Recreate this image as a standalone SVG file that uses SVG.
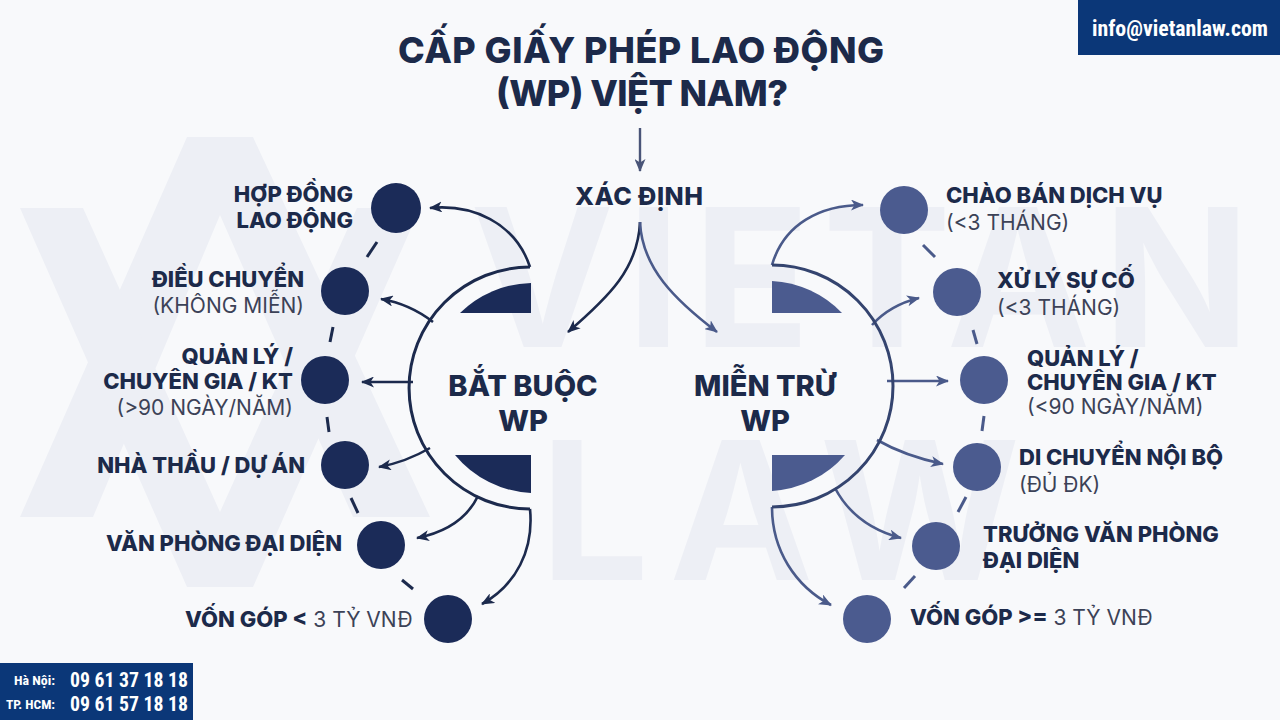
<svg xmlns="http://www.w3.org/2000/svg" width="1280" height="720" viewBox="0 0 1280 720">
<defs>
<style>
.t{font-family:Inter,"Open Sans","Noto Sans",sans-serif;}
.title{font-size:36px;font-weight:800;fill:#1c2a4a;text-anchor:middle;}
.hub{font-size:29px;font-weight:800;fill:#1c2a4a;text-anchor:middle;}
.xd{font-size:25px;font-weight:800;fill:#1c2a4a;text-anchor:middle;}
.b{font-size:22px;font-weight:800;fill:#1c2a4a;}
.r{font-size:21px;font-weight:400;fill:#3c4257;}
.wm{font-family:Inter,"Open Sans",sans-serif;font-size:193px;font-weight:700;fill:#edeff5;}
.cL{fill:#1b2b58;}
.cR{fill:#4b5b8f;}
.lineL{fill:none;stroke:#1c2a4d;stroke-width:2.6;}
.lineR{fill:none;stroke:#4a5a8a;stroke-width:2.6;}
.ringL{fill:none;stroke:#1c2a4d;stroke-width:3;}
.ringR{fill:none;stroke:#34446f;stroke-width:3;}
.dashL{stroke:#1c2a4d;stroke-width:3;stroke-linecap:butt;}
.dashR{stroke:#4a5a8a;stroke-width:3;stroke-linecap:butt;}
.badge{fill:#0b3778;}
.bt{font-family:"Liberation Sans Narrow","Roboto Condensed",Roboto,"Liberation Sans",sans-serif;font-weight:700;fill:#ffffff;}
</style>
<marker id="aL" viewBox="0 0 13 11" refX="12" refY="5.5" markerWidth="13" markerHeight="11" markerUnits="userSpaceOnUse" orient="auto">
<path d="M0,0 L13,5.5 L0,11 L3.5,5.5 Z" fill="#1c2a4d"/>
</marker>
<marker id="aR" viewBox="0 0 13 11" refX="12" refY="5.5" markerWidth="13" markerHeight="11" markerUnits="userSpaceOnUse" orient="auto">
<path d="M0,0 L13,5.5 L0,11 L3.5,5.5 Z" fill="#4a5a8a"/>
</marker>
<marker id="aT" viewBox="0 0 13 11" refX="12" refY="5.5" markerWidth="13" markerHeight="11" markerUnits="userSpaceOnUse" orient="auto">
<path d="M0,0 L13,5.5 L0,11 L3.5,5.5 Z" fill="#4a5578"/>
</marker>
</defs>

<rect x="0" y="0" width="1280" height="720" fill="#f8f9fb"/>

<g id="watermark">
<polygon points="187,137 253,137 430,517 353,517 220,215 93,517 20,517" fill="#edeff5"/>
<polygon points="20,208 83,208 220,512 357,208 420,208 253,587 187,587" fill="#edeff5"/>
<text class="wm" x="470" y="347" textLength="780">VIETAN</text>
<text class="wm" x="540" y="580" textLength="480">LAW</text>
</g>

<g id="title">
<text class="t title" x="641" y="63" textLength="486">CẤP GIẤY PHÉP LAO ĐỘNG</text>
<text class="t title" x="642" y="106" textLength="292">(WP) VIỆT NAM?</text>
</g>

<g id="connectors">
<path d="M640,128 L640,171" fill="none" stroke="#4a5578" stroke-width="2.4" marker-end="url(#aT)"/>
<path class="lineL" d="M640,222 C638,268 610,296 568,332" marker-end="url(#aL)"/>
<path class="lineR" d="M640,222 C642,268 675,300 717,332" marker-end="url(#aR)"/>

<path class="lineL" d="M530,267 C515,222 472,204 430,208" marker-end="url(#aL)"/>
<path class="lineL" d="M433,322 Q410,304 381,299" marker-end="url(#aL)"/>
<path class="lineL" d="M413,382 L362,382" marker-end="url(#aL)"/>
<path class="lineL" d="M430,448 Q406,462 379,467" marker-end="url(#aL)"/>
<path class="lineL" d="M478,496 Q462,529 417,538" marker-end="url(#aL)"/>
<path class="lineL" d="M530,509 C534,550 516,585 482,604" marker-end="url(#aL)"/>

<path class="lineR" d="M772,265 C784,224 820,205 863,205" marker-end="url(#aR)"/>
<path class="lineR" d="M872,325 Q890,305 919,298" marker-end="url(#aR)"/>
<path class="lineR" d="M887,381 L948,381" marker-end="url(#aR)"/>
<path class="lineR" d="M877,440 Q905,456 943,464" marker-end="url(#aR)"/>
<path class="lineR" d="M835,488 Q855,526 901,538" marker-end="url(#aR)"/>
<path class="lineR" d="M772,507 C772,550 795,586 831,605" marker-end="url(#aR)"/>

<line class="dashL" x1="377" y1="242" x2="367" y2="257"/>
<line class="dashL" x1="333" y1="327" x2="330" y2="342"/>
<line class="dashL" x1="327" y1="417" x2="329" y2="432"/>
<line class="dashL" x1="351" y1="498" x2="358" y2="513"/>
<line class="dashL" x1="402" y1="580" x2="413" y2="589"/>

<line class="dashR" x1="923" y1="245" x2="935" y2="257"/>
<line class="dashR" x1="973" y1="330" x2="977" y2="344"/>
<line class="dashR" x1="984" y1="416" x2="982" y2="431"/>
<line class="dashR" x1="966" y1="497" x2="958" y2="512"/>
<line class="dashR" x1="915" y1="576" x2="904" y2="588"/>
</g>

<g id="node-xac-dinh">
<text class="t xd" x="639" y="205" textLength="128">XÁC ĐỊNH</text>
</g>

<g id="node-bat-buoc">
<path class="ringL" d="M530,267 A121,121 0 0 0 530,509"/>
<path class="cL" d="M531,283 A105,105 0 0 0 460,313 L531,313 Z"/>
<path class="cL" d="M455,455 L531,455 L531,493 A105,105 0 0 1 455,455 Z"/>
<text class="t hub" x="523" y="396">BẮT BUỘC</text>
<text class="t hub" x="523" y="431">WP</text>
</g>

<g id="node-mien-tru">
<path class="ringR" d="M772,265 A121,121 0 0 1 772,507"/>
<path class="cR" d="M772,281 A105,105 0 0 1 842,313 L772,313 Z"/>
<path class="cR" d="M772,455 L845,455 A105,105 0 0 1 772,491 Z"/>
<text class="t hub" x="765" y="396">MIỄN TRỪ</text>
<text class="t hub" x="765" y="431">WP</text>
</g>

<g id="node-hop-dong">
<circle class="cL" cx="396" cy="208" r="25"/>
<text class="t b" x="353" y="202" text-anchor="end">HỢP ĐỒNG</text>
<text class="t b" x="353" y="228" text-anchor="end">LAO ĐỘNG</text>
</g>
<g id="node-dieu-chuyen">
<circle class="cL" cx="345" cy="291" r="24"/>
<text class="t b" x="304" y="287" text-anchor="end">ĐIỀU CHUYỂN</text>
<text class="t r" x="304" y="313" text-anchor="end">(KHÔNG MIỄN)</text>
</g>
<g id="node-quan-ly-l">
<circle class="cL" cx="325" cy="380" r="24"/>
<text class="t b" x="293" y="364" text-anchor="end">QUẢN LÝ /</text>
<text class="t b" x="293" y="389" text-anchor="end">CHUYÊN GIA / KT</text>
<text class="t r" x="293" y="415" text-anchor="end">(&gt;90 NGÀY/NĂM)</text>
</g>
<g id="node-nha-thau">
<circle class="cL" cx="345" cy="465" r="24"/>
<text class="t b" x="305" y="473" text-anchor="end">NHÀ THẦU / DỰ ÁN</text>
</g>
<g id="node-van-phong">
<circle class="cL" cx="381" cy="545" r="24"/>
<text class="t b" x="342" y="551" text-anchor="end">VĂN PHÒNG ĐẠI DIỆN</text>
</g>
<g id="node-von-gop-l">
<circle class="cL" cx="448" cy="619" r="24"/>
<text class="t r" x="185" y="627"><tspan class="b">VỐN GÓP &lt;</tspan> 3 TỶ VNĐ</text>
</g>

<g id="node-chao-ban">
<circle class="cR" cx="904" cy="210" r="24"/>
<text class="t b" x="946" y="203">CHÀO BÁN DỊCH VỤ</text>
<text class="t r" x="946" y="230">(&lt;3 THÁNG)</text>
</g>
<g id="node-xu-ly">
<circle class="cR" cx="957" cy="292" r="24"/>
<text class="t b" x="997" y="288">XỬ LÝ SỰ CỐ</text>
<text class="t r" x="997" y="315">(&lt;3 THÁNG)</text>
</g>
<g id="node-quan-ly-r">
<circle class="cR" cx="984" cy="380" r="24"/>
<text class="t b" x="1027" y="366">QUẢN LÝ /</text>
<text class="t b" x="1027" y="390">CHUYÊN GIA / KT</text>
<text class="t r" x="1027" y="414">(&lt;90 NGÀY/NĂM)</text>
</g>
<g id="node-di-chuyen">
<circle class="cR" cx="977" cy="467" r="24"/>
<text class="t b" x="1019" y="465">DI CHUYỂN NỘI BỘ</text>
<text class="t r" x="1019" y="492">(ĐỦ ĐK)</text>
</g>
<g id="node-truong-vp">
<circle class="cR" cx="936" cy="546" r="24"/>
<text class="t b" x="983" y="542">TRƯỞNG VĂN PHÒNG</text>
<text class="t b" x="983" y="568">ĐẠI DIỆN</text>
</g>
<g id="node-von-gop-r">
<circle class="cR" cx="867" cy="619" r="24"/>
<text class="t r" x="910" y="625"><tspan class="b">VỐN GÓP &gt;=</tspan> 3 TỶ VNĐ</text>
</g>

<g id="contact-email">
<rect class="badge" x="1078" y="0" width="202" height="55"/>
<text class="bt" x="1092" y="36" font-size="22" textLength="176" lengthAdjust="spacingAndGlyphs">info@vietanlaw.com</text>
</g>

<g id="contact-phone">
<rect class="badge" x="0" y="663" width="193" height="57"/>
<text class="bt" x="55" y="685" font-size="13" text-anchor="end" textLength="41" lengthAdjust="spacingAndGlyphs">Hà Nội:</text>
<text class="bt" x="70" y="687" font-size="20" textLength="118" lengthAdjust="spacingAndGlyphs">09 61 37 18 18</text>
<text class="bt" x="55" y="709" font-size="13" text-anchor="end" textLength="49" lengthAdjust="spacingAndGlyphs">TP. HCM:</text>
<text class="bt" x="70" y="711" font-size="20" textLength="118" lengthAdjust="spacingAndGlyphs">09 61 57 18 18</text>
</g>
</svg>
